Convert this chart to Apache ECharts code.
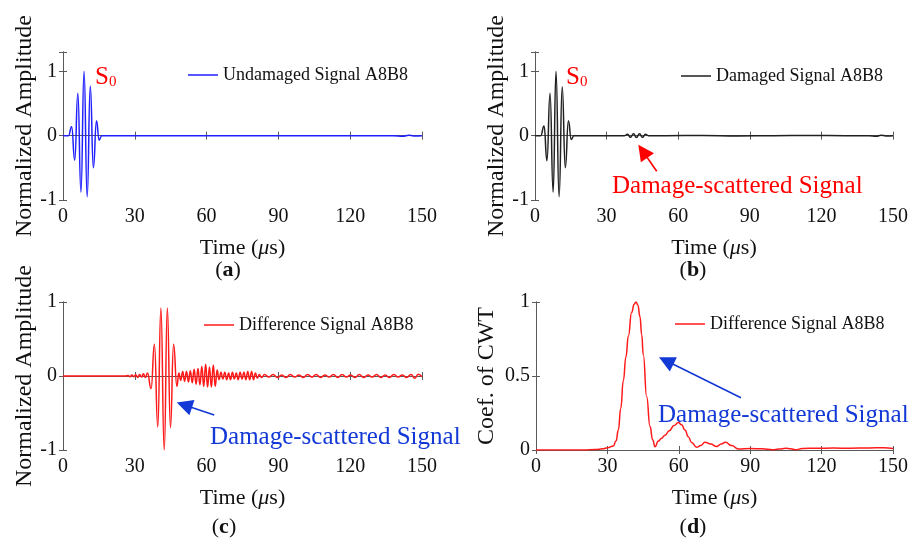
<!DOCTYPE html>
<html>
<head>
<meta charset="utf-8">
<script src="https://cdn.jsdelivr.net/npm/echarts@6/dist/echarts.min.js"></script>
<style>
  html, body { margin: 0; padding: 0; background: #fff; }
  #chart { width: 912px; height: 540px; }
</style>
</head>
<body>
<div id="chart"></div>
<script>
// ---- time axis (µs) ----
const timeMin = 0, timeMax = 150, timeStep = 30;

// (a) undamaged signal A8B8: extrema of the S0 tone burst, then flat
const timeA = [0, 2.3, 3.6, 4.9, 6.2, 7.5, 8.8, 10.1, 11.4, 12.7, 14.0, 15.1, 16.2, 20, 35, 50, 65, 80, 95, 110, 125, 138, 142, 144.5, 146.5, 150];
const ampA  = [0, 0, 0.14, -0.38, 0.66, -0.88, 1.0, -0.95, 0.77, -0.5, 0.23, -0.07, 0, 0, 0, 0, 0, 0, 0, 0, 0, 0, -0.01, 0.006, -0.004, 0];

// (b) damaged signal A8B8: same burst plus the weak scattered packet near 40 µs
const timeB = [0, 2.4, 3.8, 5.0, 6.3, 7.6, 8.8, 10.1, 11.4, 12.7, 14.0, 15.2, 16.3, 20, 30, 37.5, 38.8, 40.0, 41.3, 42.5, 43.8, 45.0, 46.3, 47.5, 55, 70, 85, 100, 115, 130, 140, 143, 145, 147, 150];
const ampB  = [0, 0, 0.15, -0.39, 0.66, -0.88, 1.0, -0.95, 0.76, -0.5, 0.23, -0.06, 0, 0, 0, 0, 0.02, -0.025, 0.03, -0.03, 0.03, -0.025, 0.02, 0, 0, 0.004, -0.004, 0, 0.004, 0, 0, -0.008, 0.007, -0.005, 0];

// (c) difference signal A8B8
const timeC = [0, 26.0, 27.2, 28.0, 28.8, 29.6, 30.4, 31.2, 32.0, 32.8, 33.6, 34.4, 35.3,
  36.8, 38.2, 39.6, 40.9, 42.3, 43.6, 44.9, 46.2, 47.6,
  48.4, 49.2, 50.0, 50.8, 51.6, 52.4, 53.2, 54.0, 54.8, 55.6, 56.4, 57.2, 58.0, 58.8, 59.6, 60.4, 61.2, 62.0, 62.8, 63.6,
  64.4, 65.2, 66.0, 66.8, 67.6, 68.4, 69.2, 70.0, 70.8, 71.6, 72.4, 73.2, 74.0, 74.8, 75.6, 76.4, 77.2, 78.0, 78.8, 79.6,
  80.4, 81.2, 82.0, 83.0, 84.2,
  86.0, 87.8, 89.6, 91.4, 93.2, 95.0, 96.8, 98.6, 100.4, 102.2, 104.0, 105.8, 107.6, 109.4, 111.2, 113.0, 114.8,
  116.6, 118.4, 120.2, 122.0, 123.8, 125.6, 127.4, 129.2, 131.0, 132.8, 134.6, 136.4, 138.2, 140.0, 141.8, 143.6,
  145.4, 147.0, 148.4, 150];
const ampC  = [0, 0, 0.008, -0.01, 0.012, -0.01, 0.018, -0.02, 0.02, -0.015, 0.03, -0.02, 0.04,
  -0.17, 0.43, -0.69, 0.92, -1.0, 0.92, -0.70, 0.43, -0.14,
  0.04, -0.06, 0.06, -0.07, 0.06, -0.08, 0.07, -0.09, 0.09, -0.11, 0.10, -0.12, 0.13, -0.14, 0.16, -0.15, 0.12, -0.15, 0.15, -0.14,
  0.08, -0.05, 0.05, -0.04, 0.05, -0.05, 0.04, -0.05, 0.05, -0.04, 0.04, -0.05, 0.05, -0.04, 0.05, -0.05, 0.06, -0.05, 0.06, -0.05,
  0.04, -0.03, 0.02, -0.02, 0.02,
  -0.015, 0.02, -0.02, 0.015, -0.02, 0.02, -0.015, 0.015, -0.02, 0.02, -0.015, 0.02, -0.02, 0.015, -0.015, 0.02, -0.02,
  0.02, -0.015, 0.015, -0.02, 0.02, -0.02, 0.015, -0.015, 0.02, -0.02, 0.015, -0.02, 0.02, -0.015, 0.015, -0.02,
  0.02, -0.03, 0.025, -0.01];

// (d) CWT coefficient of the difference signal
const timeD = [0, 20, 25, 28, 30.1, 32.5, 33.6, 34.6, 35.6, 36.7, 37.8, 38.8, 40.2, 41.2, 42.0, 42.8, 43.7, 44.4, 45.1, 46.5,
  47.9, 49.0, 50.0, 51.4, 52.8, 54.2, 56.0, 58.0, 59.8, 61.2, 62.6, 64.0, 65.4, 67.5, 69.2, 71.0, 73.4, 75.9, 77.8, 79.6,
  82.2, 85.0, 90, 95, 99.5, 102, 105, 107, 109, 112, 118, 125, 132, 140, 146, 150];
const cwtD  = [0, 0, 0.003, 0.008, 0.016, 0.027, 0.06, 0.135, 0.28, 0.47, 0.63, 0.77, 0.93, 0.985, 1.0, 0.98, 0.90, 0.78, 0.64, 0.36,
  0.16, 0.07, 0.022, 0.06, 0.08, 0.10, 0.13, 0.165, 0.185, 0.17, 0.135, 0.09, 0.05, 0.018, 0.03, 0.052, 0.04, 0.023, 0.04, 0.052,
  0.03, 0.007, 0.01, 0.008, 0.002, 0.006, 0.012, 0.008, 0.002, 0.01, 0.012, 0.013, 0.012, 0.014, 0.015, 0.01];

const nameA = 'Undamaged Signal A8B8';
const nameB = 'Damaged Signal A8B8';
const nameC = 'Difference Signal A8B8';
const nameD = 'Difference Signal A8B8';

// ---- styling ----
const SERIF = '"Liberation Serif", "Times New Roman", serif';
const INK = '#111';
const FRAME = '#5a5a5a';
const BLUE = '#2020ff';
const BLACK = '#202020';
const RED = '#ff1a1a';
const NOTE_RED = '#ff0000';
const NOTE_BLUE = '#1238d6';

const zip = (t, v) => t.map((x, i) => [x, v[i]]);

const grids = [
  { left: 63,  top: 52,  width: 359, height: 148 },
  { left: 535, top: 52,  width: 358, height: 148 },
  { left: 63,  top: 302, width: 359, height: 148 },
  { left: 536, top: 302, width: 357, height: 148 }
];

const yRanges = [
  { min: -1, max: 1.3, interval: 1 },
  { min: -1, max: 1.3, interval: 1 },
  { min: -1, max: 1,   interval: 1 },
  { min: 0,  max: 1,   interval: 0.5 }
];
const yNames = ['Normalized Amplitude', 'Normalized Amplitude', 'Normalized Amplitude', 'Coef. of CWT'];
const yNameGaps = [23, 23, 23, 37];

const frameLine = { show: true, lineStyle: { color: FRAME, width: 1 } };
const innerTick = { show: true, inside: true, length: 4, lineStyle: { color: FRAME, width: 1 } };

const xAxes = [];
const yAxes = [];
grids.forEach((g, i) => {
  xAxes.push({
    type: 'value', gridIndex: i, position: 'bottom',
    min: timeMin, max: timeMax, interval: timeStep,
    axisLine: frameLine, axisTick: innerTick, splitLine: { show: false },
    axisLabel: { margin: 7, fontFamily: SERIF, fontSize: 20, color: INK },
    name: '{n|Time (}{i|μ}{n|s)}', nameLocation: 'middle', nameGap: 37,
    nameTextStyle: {
      fontFamily: SERIF, fontSize: 22, color: INK,
      rich: {
        n: { fontFamily: SERIF, fontSize: 22, color: INK },
        i: { fontFamily: SERIF, fontSize: 22, color: INK, fontStyle: 'italic' }
      }
    }
  });
  const r = yRanges[i];
  yAxes.push({
    type: 'value', gridIndex: i, position: 'left',
    min: r.min, max: r.max, interval: r.interval,
    axisLine: frameLine, axisTick: innerTick, splitLine: { show: false },
    axisLabel: {
      margin: 6, fontFamily: SERIF, fontSize: 20, color: INK,
      formatter: v => (Math.abs(v / r.interval - Math.round(v / r.interval)) < 1e-9 ? String(v) : '')
    },
    name: yNames[i], nameLocation: 'middle', nameGap: yNameGaps[i],
    nameTextStyle: { fontFamily: SERIF, fontSize: 24, color: INK }
  });
});
// mirrored frame edges (top and right) with inward ticks
grids.forEach((g, i) => {
  xAxes.push({
    type: 'value', gridIndex: i, position: 'top',
    min: timeMin, max: timeMax, interval: timeStep,
    axisLine: frameLine, axisTick: innerTick, axisLabel: { show: false }, splitLine: { show: false }
  });
  const r = yRanges[i];
  yAxes.push({
    type: 'value', gridIndex: i, position: 'right',
    min: r.min, max: r.max, interval: r.interval,
    axisLine: frameLine, axisTick: innerTick, axisLabel: { show: false }, splitLine: { show: false }
  });
});

function arrow(color, from, to) {
  return {
    silent: true, animation: false,
    symbol: ['none', 'triangle'], symbolSize: 16,
    label: { show: false }, emphasis: { disabled: true },
    lineStyle: { color: color, width: 1.6, type: 'solid' },
    itemStyle: { color: color },
    data: [[{ coord: from }, { coord: to }]]
  };
}

function lineSeries(name, idx, data, color, extra) {
  return Object.assign({
    type: 'line', name: name, xAxisIndex: idx, yAxisIndex: idx,
    data: data, symbol: 'none', showSymbol: false,
    smooth: true, smoothMonotone: 'x', silent: true,
    lineStyle: { color: color, width: 1.5 }, itemStyle: { color: color },
    emphasis: { disabled: true }
  }, extra || {});
}

const legendText = { fontFamily: SERIF, fontSize: 18, color: INK };
function legendAt(name, left, top) {
  return {
    data: [name], left: left, top: top, padding: 0,
    icon: 'rect', itemWidth: 30, itemHeight: 1.5, itemGap: 0,
    selectedMode: false, textStyle: legendText
  };
}

function s0(x) {
  return {
    type: 'text', left: x, top: 65, silent: true,
    style: {
      text: '{s|S}{z|0}',
      rich: {
        s: { fontFamily: SERIF, fontSize: 25, fill: NOTE_RED, verticalAlign: 'bottom' },
        z: { fontFamily: SERIF, fontSize: 15, fill: NOTE_RED, verticalAlign: 'bottom' }
      }
    }
  };
}

function panelTag(letter, cx, cy) {
  return {
    type: 'text', x: cx, y: cy, silent: true,
    style: {
      text: '{p|(}{b|' + letter + '}{p|)}',
      align: 'center', verticalAlign: 'middle',
      rich: {
        p: { fontFamily: SERIF, fontSize: 22, fill: INK },
        b: { fontFamily: SERIF, fontSize: 22, fontWeight: 'bold', fill: INK }
      }
    }
  };
}

function note(text, x, y, color) {
  return {
    type: 'text', x: x, y: y, silent: true,
    style: { text: text, fontFamily: SERIF, fontSize: 25, fill: color, align: 'left', verticalAlign: 'middle' }
  };
}

const option = {
  animation: false,
  backgroundColor: '#fff',
  grid: grids,
  xAxis: xAxes,
  yAxis: yAxes,
  legend: [
    legendAt(nameA, 188, 66),
    legendAt(nameB, 681, 67),
    legendAt(nameC, 204, 316),
    legendAt(nameD, 675, 315)
  ],
  series: [
    lineSeries(nameA, 0, zip(timeA, ampA), BLUE),
    lineSeries(nameB, 1, zip(timeB, ampB), BLACK, {
      markLine: arrow(NOTE_RED, [51.0, -0.553], [45.2, -0.242])
    }),
    lineSeries(nameC, 2, zip(timeC, ampC), RED, {
      markLine: arrow(NOTE_BLUE, [63.2, -0.527], [50.7, -0.393])
    }),
    lineSeries(nameD, 3, zip(timeD, cwtD), RED, {
      markLine: arrow(NOTE_BLUE, [86.1, 0.353], [54.7, 0.603])
    })
  ],
  graphic: [
    s0(95),
    s0(566),
    note('Damage-scattered Signal', 612, 186, NOTE_RED),
    note('Damage-scattered Signal', 210, 437, NOTE_BLUE),
    note('Damage-scattered Signal', 658, 415, NOTE_BLUE),
    panelTag('a', 228, 270),
    panelTag('b', 693, 270),
    panelTag('c', 224, 527),
    panelTag('d', 693, 527)
  ]
};

const chart = echarts.init(document.getElementById('chart'), null, { renderer: 'canvas' });
chart.setOption(option);
</script>
</body>
</html>
